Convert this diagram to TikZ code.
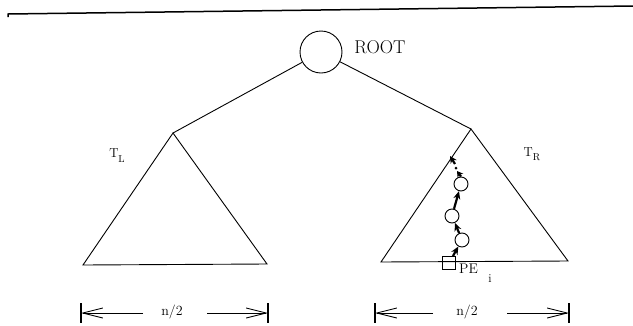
\documentclass[tikz,border=0pt]{standalone}
\usetikzlibrary{arrows.meta}
\begin{document}
\begin{tikzpicture}[x=1pt,y=-1pt,
  tline/.style={line width=0.9pt},
  pnode/.style={circle,draw,line width=0.9pt,minimum size=14pt,inner sep=0pt},
  pth/.style={line width=2.2pt,-{Stealth[length=8pt,width=7pt]}},
  dim/.style={line width=0.9pt,-{Straight Barb[length=20pt,width=10pt,line width=0.9pt]}},
  bar/.style={line width=1.8pt},
  lbl/.style={inner sep=0pt}]
\useasboundingbox (0,0) rectangle (633,325);
% top rule
\draw[line width=1.5pt] (8,17) -- (8,14) -- (633,6);
% root
\node[circle,draw,line width=0.9pt,minimum size=42pt,inner sep=0pt] (root) at (321,52) {};
\node[lbl,font=\fontsize{18.5}{20}\selectfont] (rootlbl) at (380,47) {ROOT};
% left tree
\coordinate (la) at (173,133);
\coordinate (lb) at (83,265);
\coordinate (lc) at (267,264);
\draw[tline] (la) -- (lb) -- (lc) -- cycle;
% right tree
\coordinate (ra) at (471,129);
\coordinate (rb) at (381,262);
\coordinate (rc) at (568,261);
\draw[tline] (ra) -- (rb) -- (rc) -- cycle;
\draw[tline] (root) -- (la);
\draw[tline] (root) -- (ra);
% labels
\node[lbl,font=\fontsize{13}{15}\selectfont] (tl) at (117,156) {T\raisebox{-5pt}{\fontsize{10}{12}\selectfont L}};
\node[lbl,font=\fontsize{13}{15}\selectfont] (tr) at (532,154) {T\raisebox{-4.5pt}{\fontsize{10}{12}\selectfont R}};
% path in right tree
\node[draw,line width=0.9pt,minimum size=13pt,inner sep=0pt] (sq) at (449,263) {};
\node[pnode] (c1) at (462,240) {};
\node[pnode] (c2) at (452,216) {};
\node[pnode] (c3) at (461,184) {};
\draw[pth] (sq) -- (c1);
\draw[pth] (c1) -- (c2);
\draw[pth] (c2) -- (c3);
\coordinate (u1) at (457,171);
\coordinate (u2) at (455,164);
\coordinate (u3) at (450,156);
\draw[pth,-{Stealth[length=6pt,width=7pt]}] (c3.north) -- (u1);
\fill (456,168) circle (1.5pt);
\draw[pth,-{Stealth[length=7pt,width=7pt]}] (u2) -- (u3);
\node[lbl,font=\fontsize{14}{16}\selectfont,anchor=west] (pe) at (459,269) {PE};
\node[lbl,font=\fontsize{12}{14}\selectfont] (pei) at (490,279) {i};
% dimension lines
\coordinate (l1) at (81,313);
\coordinate (l2) at (268,313);
\coordinate (r1) at (375,313);
\coordinate (r2) at (569,313);
\draw[bar] (81,303) -- (81,323);
\draw[bar] (268,303) -- (268,323);
\draw[bar] (375,303) -- (375,323);
\draw[bar] (569,303) -- (569,323);
\node[lbl,font=\fontsize{14}{16}\selectfont] (nl) at (172,312) {n/2};
\node[lbl,font=\fontsize{14}{16}\selectfont] (nr) at (467,312) {n/2};
\draw[dim] (143,313) -- (l1);
\draw[dim] (207,313) -- (l2);
\draw[dim] (433,313) -- (r1);
\draw[dim] (507,313) -- (r2);
\end{tikzpicture}
\end{document}
